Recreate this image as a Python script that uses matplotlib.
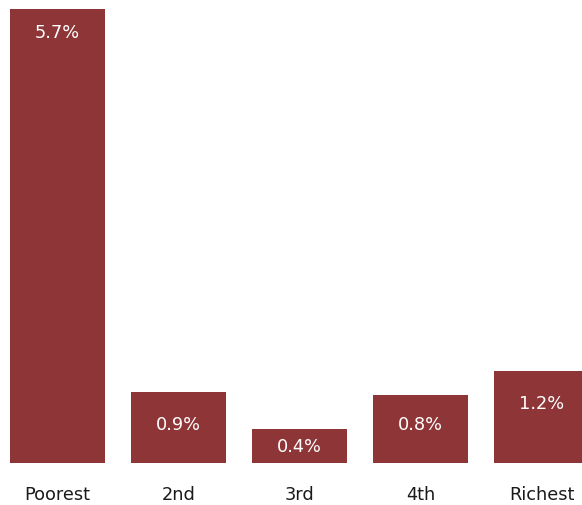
import matplotlib
matplotlib.use("Agg")
import matplotlib.pyplot as plt

categories = ["Poorest", "2nd", "3rd", "4th", "Richest"]
values = [5.7, 0.89, 0.43, 0.85, 1.16]
labels = ["5.7%", "0.9%", "0.4%", "0.8%", "1.2%"]

W, H = 582, 506
fig = plt.figure(figsize=(W / 100, H / 100), dpi=100)
ax = fig.add_axes([10 / W, (H - 464) / H, 572 / W, 454 / H])

pitch = 121.0
bw = 95 / pitch
x = list(range(len(categories)))
color = "#8E3537"
ax.bar(x, values, width=bw, color=color)
ax.set_xlim(-bw / 2, (582 - 57.5) / pitch)
ax.set_ylim(0, 5.7)
ax.axis("off")

# label offsets below bar top (in pixels)
offsets_px = [23, 32, 17, 29, 32]
ppu = 454 / 5.7
for xi, v, lab, off in zip(x, values, labels, offsets_px):
    ypx = min(off, v * ppu / 2)
    ax.text(xi, v - ypx / ppu, lab, ha="center", va="center", color="white",
            fontsize=12.8, family="DejaVu Sans", clip_on=False)
    ax.text(xi, -31 / ppu, categories[xi], ha="center", va="center", color="#1a1a1a",
            fontsize=12.8, family="DejaVu Sans", clip_on=False)

fig.savefig("out.png", dpi=100)
